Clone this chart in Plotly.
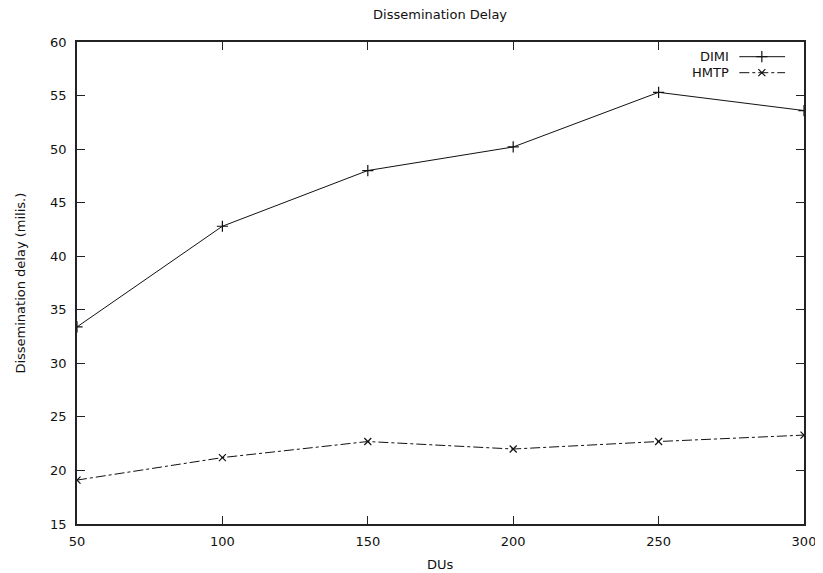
import plotly.graph_objects as go

dus = [50, 100, 150, 200, 250, 300]
dimi = [33.4, 42.8, 48.0, 50.2, 55.3, 53.6]
hmtp = [19.1, 21.2, 22.7, 22.0, 22.7, 23.3]
series_names = ["DIMI", "HMTP"]
x_ticks = [50, 100, 150, 200, 250, 300]
y_ticks = [15, 20, 25, 30, 35, 40, 45, 50, 55, 60]

FONT = "DejaVu Sans, Liberation Sans, Arial, sans-serif"
FS = 13
DASH = "10px,3px,3px,3px"
TXT = dict(family=FONT, size=FS, color="#111")

fig = go.Figure()
fig.add_trace(go.Scatter(x=dus, y=dimi, mode="lines+markers", name=series_names[0],
                         line=dict(color="#111", width=1),
                         marker=dict(symbol="cross-thin", size=8, line=dict(color="#111", width=1.2)),
                         showlegend=False))
fig.add_trace(go.Scatter(x=dus, y=hmtp, mode="lines+markers", name=series_names[1],
                         line=dict(color="#111", width=1, dash=DASH),
                         marker=dict(symbol="x-thin", size=7, line=dict(color="#111", width=1.2)),
                         showlegend=False))

# custom legend (text left, sample right, gnuplot style)
leg_y = [0.9695, 0.9363]
fig.add_trace(go.Scatter(x=[0.911, 0.974], y=[leg_y[0]] * 2, xaxis="x2", yaxis="y2", mode="lines",
                         line=dict(color="#111", width=1), showlegend=False, hoverinfo="skip"))
fig.add_trace(go.Scatter(x=[0.942], y=[leg_y[0]], xaxis="x2", yaxis="y2", mode="markers",
                         marker=dict(symbol="cross-thin", size=8, line=dict(color="#111", width=1.2)),
                         showlegend=False, hoverinfo="skip"))
fig.add_trace(go.Scatter(x=[0.911, 0.974], y=[leg_y[1]] * 2, xaxis="x2", yaxis="y2", mode="lines",
                         line=dict(color="#111", width=1, dash=DASH), showlegend=False, hoverinfo="skip"))
fig.add_trace(go.Scatter(x=[0.942], y=[leg_y[1]], xaxis="x2", yaxis="y2", mode="markers",
                         marker=dict(symbol="x-thin", size=7, line=dict(color="#111", width=1.2)),
                         showlegend=False, hoverinfo="skip"))
for name, yy in zip(series_names, leg_y):
    fig.add_annotation(text=name, xref="paper", yref="paper", x=0.899, y=yy,
                       xanchor="right", yanchor="middle", showarrow=False, font=TXT)

# axis titles
fig.add_annotation(text="Dissemination delay (milis.)", xref="paper", yref="paper",
                   x=-0.079, y=0.5, xanchor="center", yanchor="middle", textangle=-90,
                   showarrow=False, font=TXT)
fig.add_annotation(text="DUs", xref="paper", yref="paper", x=0.5, y=-0.085,
                   xanchor="center", yanchor="middle", showarrow=False, font=TXT)

axis_common = dict(showgrid=False, zeroline=False, showline=True, linecolor="#222", linewidth=1.5,
                   mirror="ticks", ticks="inside", ticklen=8, tickwidth=1.2, tickcolor="#222",
                   tickfont=TXT, automargin=False)

fig.update_layout(
    width=823, height=573,
    margin=dict(l=69, r=27, t=34, b=57),
    paper_bgcolor="white", plot_bgcolor="white",
    title=dict(text="Dissemination Delay", x=0.525, xanchor="center", y=0.9895, yanchor="middle",
               font=TXT),
    xaxis=dict(range=[50, 300], tickvals=x_ticks, ticklabelstandoff=5, **axis_common),
    yaxis=dict(range=[15, 60], tickvals=y_ticks, ticklabelstandoff=6, **axis_common),
    xaxis2=dict(overlaying="x", range=[0, 1], visible=False),
    yaxis2=dict(overlaying="y", range=[0, 1], visible=False),
)

fig.write_html("out.html")
